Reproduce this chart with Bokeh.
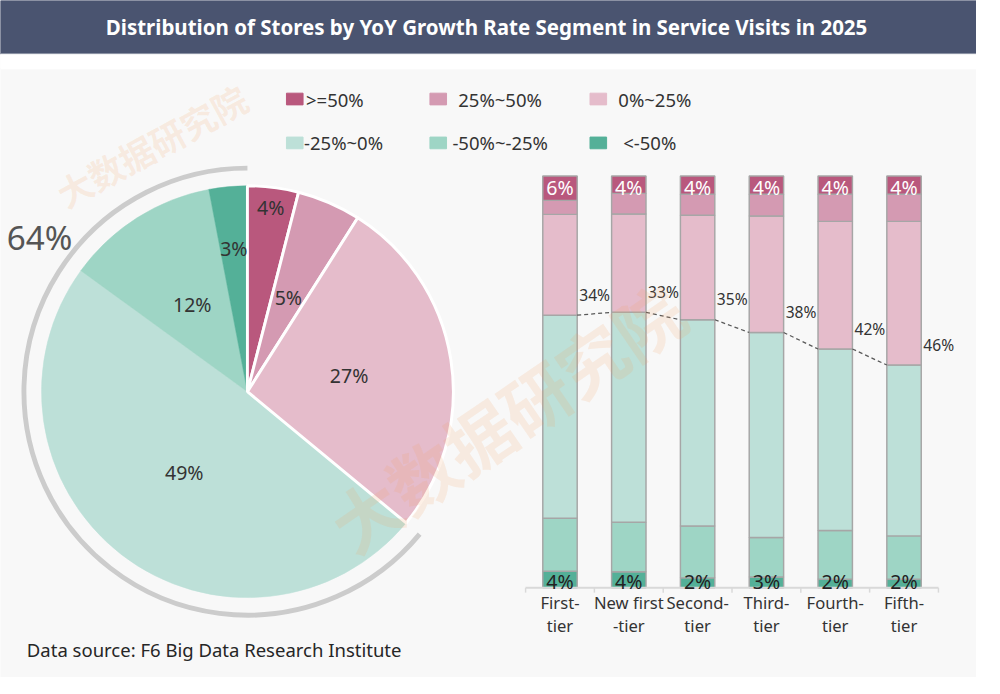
import numpy as np
from bokeh.plotting import figure
from bokeh.models import Range1d
from bokeh.core.properties import value
from bokeh.embed import file_html
from bokeh.resources import INLINE

# ---- data ----
title = "Distribution of Stores by YoY Growth Rate Segment in Service Visits in 2025"
source_note = "Data source: F6 Big Data Research Institute"
watermark = "大数据研究院"

segments = [">=50%", "25%~50%", "0%~25%", "-25%~0%", "-50%~-25%", "<-50%"]
seg_colors = ["#b9587d", "#d49ab2", "#e5bccb", "#bde0d8", "#9ed5c5", "#54b098"]
is_positive = [True, True, True, False, False, False]

# overall share of stores (pie)
overall_share = [4, 5, 27, 49, 12, 3]

# share by city tier (stacked bars), %
tiers = ["First-\ntier", "New first\n-tier", "Second-\ntier", "Third-\ntier", "Fourth-\ntier", "Fifth-\ntier"]
ge50 = [5.9, 4.2, 4.4, 4.4, 4.4, 4.4]
p25_50 = [3.4, 5.0, 5.1, 5.3, 6.6, 6.6]
p0_25 = [24.5, 23.9, 25.4, 28.3, 31.0, 34.9]
n0_25 = [49.3, 51.0, 50.1, 49.8, 44.1, 41.5]
n25_50 = [12.9, 12.0, 12.6, 9.6, 11.8, 10.5]
lt50 = [4.0, 3.9, 2.4, 2.6, 2.1, 2.1]

# ---- canvas (reference pixel coordinates, y measured from top) ----
REF_W, REF_H = 1000, 694
W, H = 976, 677
S = W / REF_W

def Y(y):
    return REF_H - y

def px(n):
    return f"{n * S:.1f}px"

FONT = value("Noto Sans")
TXT = "#333333"

p = figure(width=W, height=H, x_range=Range1d(0, REF_W), y_range=Range1d(0, REF_H),
           x_axis_type=None, y_axis_type=None, output_backend="svg",
           toolbar_location=None, min_border=0, outline_line_color=None,
           background_fill_color="#f8f8f8", border_fill_color="#f8f8f8")
p.grid.visible = False

# title band
p.quad(left=0, right=REF_W, bottom=Y(55), top=REF_H, color="#4a5470")
p.quad(left=0, right=REF_W, bottom=Y(70), top=Y(55), color="#ffffff")
p.text(x=[498], y=[Y(27)], text=[title], text_align="center", text_baseline="middle",
       text_color="white", text_font=FONT, text_font_style="bold", text_font_size=px(21))

# legend (drawn by hand, two rows of three)
sw_left = [293, 440, 604]
txt_left = [[313, 469, 633], [311, 463, 638]]
rows = [101, 146]
for k, (name, col) in enumerate(zip(segments, seg_colors)):
    r, c = divmod(k, 3)
    p.rect(x=sw_left[c] + 8.5, y=Y(rows[r]), width=17, height=12, color=col)
    p.text(x=[txt_left[r][c]], y=[Y(rows[r])], text=[name], text_align="left",
           text_baseline="middle", text_color=TXT, text_font=FONT, text_font_size=px(19))

# ---- pie ----
cx, cy, R = 253, Y(401), 211
cum = np.concatenate([[0], np.cumsum(overall_share)]) / 100.0
starts = np.pi / 2 - 2 * np.pi * cum[1:]
ends = np.pi / 2 - 2 * np.pi * cum[:-1]
order = [i for i in range(6) if not is_positive[i]] + [i for i in range(6) if is_positive[i]]
for i in order:
    if is_positive[i]:
        p.wedge(x=cx, y=cy, radius=R, start_angle=starts[i], end_angle=ends[i],
                fill_color=seg_colors[i], line_color="white", line_width=3 * S)
    else:
        p.wedge(x=cx, y=cy, radius=R, start_angle=starts[i], end_angle=ends[i],
                fill_color=seg_colors[i], line_color=seg_colors[i], line_width=0.5)

label_r = [0.9, 0.5, 0.5, 0.5, 0.5, 0.7]
mids = (starts + ends) / 2
p.text(x=cx + R * np.array(label_r) * np.cos(mids), y=cy + R * np.array(label_r) * np.sin(mids),
       text=[f"{v}%" for v in overall_share], text_align="center", text_baseline="middle",
       text_color=TXT, text_font=FONT, text_font_size=px(20))

# grey arc spanning the declining share
neg_share = sum(v for v, pos in zip(overall_share, is_positive) if not pos)
pos_frac = 1 - neg_share / 100.0
p.arc(x=cx, y=cy, radius=229, start_angle=np.pi / 2 - 2 * np.pi,
      end_angle=np.pi / 2 - 2 * np.pi * pos_frac, line_color="#cccccc", line_width=5 * S)
p.text(x=[40], y=[Y(243)], text=[f"{neg_share}%"], text_align="center", text_baseline="middle",
       text_color="#555555", text_font=FONT, text_font_size=px(34))

# ---- stacked bars on their own scales ----
BAR_L, BAR_R = 538.0, 961.0
BAR_BASE, BAR_TOP = 602.0, 180.0
n = len(tiers)
ux = (BAR_R - BAR_L) / n
xs0 = -0.5 - BAR_L / ux
p.extra_x_ranges = {"bx": Range1d(xs0, xs0 + REF_W / ux)}
uy = (BAR_BASE - BAR_TOP) / 100.0
ys0 = -(REF_H - BAR_BASE) / uy
p.extra_y_ranges = {"by": Range1d(ys0, ys0 + REF_H / uy)}
idx = np.arange(n)

stack = [ge50, p25_50, p0_25, n0_25, n25_50, lt50]
bottom = np.zeros(n)
for vals, col in reversed(list(zip(stack, seg_colors))):
    top = bottom + np.array(vals)
    p.vbar(x=idx, width=0.5, bottom=bottom, top=top, fill_color=col,
           line_color="#a6a6a6", line_width=1.5 * S, x_range_name="bx", y_range_name="by")
    bottom = top

# axis line with boundary ticks
p.segment(x0=[-0.5], y0=[0], x1=[n - 0.5], y1=[0], line_color="#d9d9d9", line_width=2 * S,
          x_range_name="bx", y_range_name="by")
p.segment(x0=np.arange(n + 1) - 0.5, y0=0, x1=np.arange(n + 1) - 0.5, y1=-5 / uy,
          line_color="#d9d9d9", line_width=1.5 * S, x_range_name="bx", y_range_name="by")

# top (>=50%) and bottom (<-50%) value labels
p.text(x=idx, y=100 - 12 / uy, text=[f"{v:.0f}%" for v in ge50], text_align="center",
       text_baseline="middle", text_color="white", text_font=FONT, text_font_size=px(20),
       x_range_name="bx", y_range_name="by")
p.text(x=idx, y=6 / uy, text=[f"{v:.0f}%" for v in lt50], text_align="center",
       text_baseline="middle", text_color="#222222", text_font=FONT, text_font_size=px(20),
       x_range_name="bx", y_range_name="by")

# growing share line (sum of positive segments)
pos_share = np.array(ge50) + np.array(p25_50) + np.array(p0_25)
edge = 100 - pos_share
p.segment(x0=idx[:-1] + 0.25, y0=edge[:-1], x1=idx[1:] - 0.25, y1=edge[1:],
          line_color="#595959", line_width=1.3 * S, line_dash="4 3",
          x_range_name="bx", y_range_name="by")
p.text(x=idx + 0.28, y=edge + 21 / uy, text=[f"{v:.0f}%" for v in pos_share], text_align="left",
       text_baseline="middle", text_color=TXT, text_font=FONT, text_font_size=px(16),
       x_range_name="bx", y_range_name="by")

# category labels
p.text(x=idx, y=Y(629), text=tiers, text_align="center", text_baseline="middle",
       text_color=TXT, text_font=FONT, text_font_size=px(17), text_line_height=1.0,
       x_range_name="bx")

# footer
p.text(x=[27], y=[Y(665)], text=[source_note], text_align="left", text_baseline="middle",
       text_color="#262626", text_font=FONT, text_font_size=px(19))

# faint watermark
p.text(x=[60, 345], y=[Y(200), Y(545)], text=[watermark, watermark], angle=[0.5, 0.6],
       text_align="left", text_baseline="middle", text_color="#f3a262", text_alpha=0.16,
       text_font=value("Noto Sans CJK SC"), text_font_style="bold",
       text_font_size=[px(36), px(70)])

open("out.html", "w").write(file_html(p, INLINE))
